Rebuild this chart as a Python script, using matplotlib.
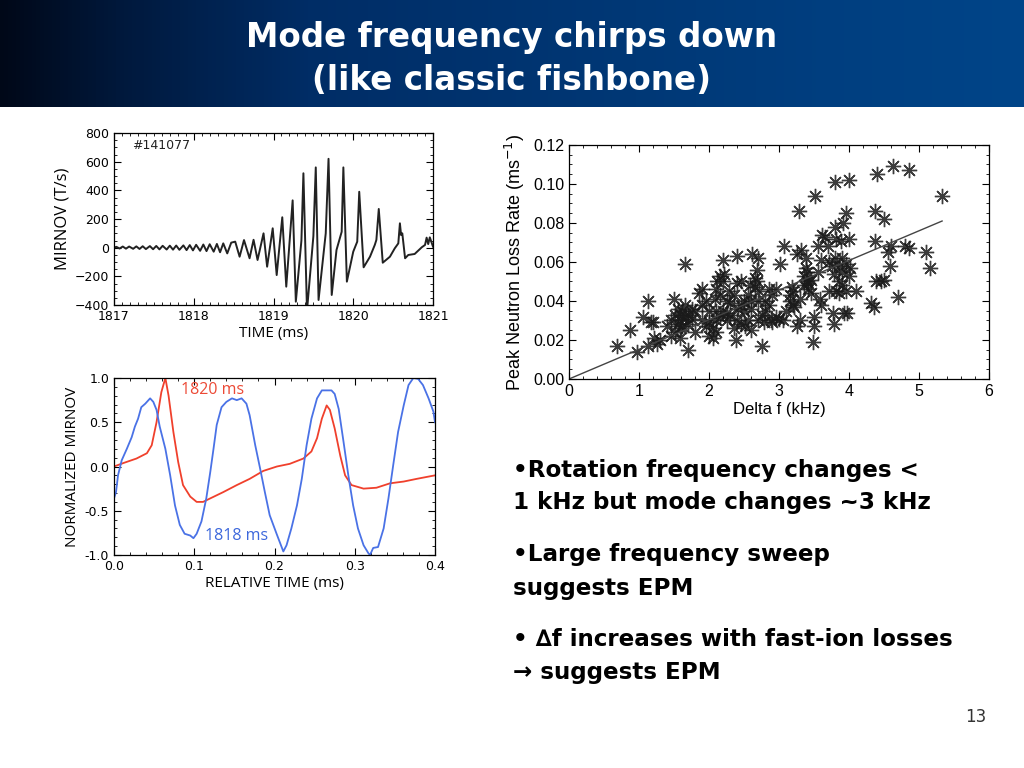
import numpy as np
import matplotlib.pyplot as plt
from matplotlib.ticker import AutoMinorLocator, MultipleLocator
from matplotlib.colors import LinearSegmentedColormap

# --- top left: Mirnov trace, shot #141077 (extrema)
mirnov_t = [1817.00, 1817.03, 1817.07, 1817.11, 1817.15, 1817.19, 1817.24, 1817.28,
            1817.32, 1817.36, 1817.40, 1817.45, 1817.49, 1817.53, 1817.57, 1817.61,
            1817.66, 1817.70, 1817.74, 1817.78, 1817.82, 1817.87, 1817.91, 1817.95,
            1817.99, 1818.03, 1818.08, 1818.12, 1818.16, 1818.20, 1818.25, 1818.29,
            1818.33, 1818.37, 1818.42, 1818.47, 1818.52, 1818.575, 1818.63, 1818.70,
            1818.75, 1818.80, 1818.875, 1818.92, 1818.99, 1819.04, 1819.11, 1819.16,
            1819.24, 1819.28, 1819.35, 1819.375, 1819.42, 1819.50, 1819.53, 1819.565,
            1819.655, 1819.69, 1819.73, 1819.79, 1819.855, 1819.876, 1819.92, 1820.00,
            1820.05, 1820.075, 1820.13, 1820.21, 1820.27, 1820.29, 1820.32, 1820.37,
            1820.46, 1820.52, 1820.565, 1820.585, 1820.60, 1820.615, 1820.65, 1820.69,
            1820.77, 1820.86, 1820.90, 1820.92, 1820.94, 1820.96, 1821.00]
mirnov_v = [0, 6, -6, 8, -7, 8, -8, 9,
            -9, 10, -10, 11, -11, 12, -12, 13,
            -13, 14, -14, 15, -15, 16, -17, 18,
            -19, 20, -22, 22, -24, 24, -28, 26,
            -32, 30, -40, 35, 42, -63, 53, -74,
            55, -86, 100, -133, 135, -191, 212, -272,
            330, -377, 50, 519, -440, 80, 560, -365,
            100, 620, -330, -16, 111, 560, -237, -28,
            42, 390, -137, -63, 19, 54, 270, -105,
            -63, -5, 30, 170, 88, 100, -74, -51,
            -44, 3, 19, 70, 25, 72, 7]

# --- bottom left: normalized Mirnov at 1818 ms and 1820 ms
blue_t = [0.0, 0.0025, 0.005, 0.0096, 0.016, 0.022, 0.026, 0.030, 0.034, 0.039, 0.045,
          0.049, 0.053, 0.057, 0.064, 0.070, 0.076, 0.082, 0.088, 0.095, 0.099, 0.103,
          0.109, 0.115, 0.120, 0.124, 0.128, 0.134, 0.140, 0.147, 0.153, 0.159, 0.165,
          0.169, 0.176, 0.182, 0.188, 0.194, 0.203, 0.211, 0.215, 0.221, 0.228, 0.234,
          0.240, 0.246, 0.253, 0.259, 0.265, 0.271, 0.275, 0.280, 0.286, 0.292, 0.298,
          0.304, 0.311, 0.317, 0.319, 0.323, 0.329, 0.336, 0.342, 0.348, 0.354, 0.361,
          0.367, 0.373, 0.379, 0.385, 0.392, 0.398, 0.400]
blue_v = [-0.36, -0.29, -0.10, 0.07, 0.20, 0.33, 0.45, 0.54, 0.67, 0.71, 0.77,
          0.73, 0.64, 0.45, 0.20, -0.10, -0.44, -0.66, -0.76, -0.78, -0.81, -0.76,
          -0.62, -0.36, -0.06, 0.20, 0.47, 0.67, 0.73, 0.77, 0.75, 0.77, 0.71,
          0.58, 0.24, -0.02, -0.29, -0.55, -0.77, -0.96, -0.89, -0.70, -0.44, -0.14,
          0.24, 0.54, 0.77, 0.86, 0.86, 0.86, 0.82, 0.65, 0.28, -0.10, -0.44,
          -0.70, -0.89, -0.98, -1.0, -0.92, -0.91, -0.70, -0.36, 0.02, 0.39, 0.69,
          0.92, 1.0, 0.99, 0.92, 0.77, 0.62, 0.50]
red_t = [0.0, 0.012, 0.028, 0.041, 0.047, 0.053, 0.059, 0.064, 0.068, 0.074, 0.080,
         0.086, 0.095, 0.103, 0.111, 0.120, 0.136, 0.153, 0.169, 0.186, 0.203, 0.219,
         0.236, 0.246, 0.253, 0.259, 0.265, 0.269, 0.275, 0.282, 0.288, 0.296, 0.311,
         0.327, 0.344, 0.361, 0.377, 0.400]
red_v = [0.0, 0.04, 0.09, 0.15, 0.24, 0.50, 0.84, 1.0, 0.80, 0.39, 0.05,
         -0.21, -0.34, -0.40, -0.40, -0.36, -0.29, -0.21, -0.14, -0.05, 0.0, 0.03,
         0.09, 0.17, 0.32, 0.54, 0.69, 0.64, 0.43, 0.12, -0.10, -0.21, -0.25,
         -0.24, -0.19, -0.17, -0.14, -0.10]

# --- right: peak neutron loss rate vs delta f
dfreq = [0.68, 0.87, 0.97, 1.05, 1.13, 1.13, 1.17, 1.20, 1.22, 1.25, 1.40, 1.45, 1.50, 1.52,
         1.55, 1.58, 1.60, 1.62, 1.65, 1.67, 1.70, 1.70, 1.75, 1.80, 1.85, 1.90, 1.90, 1.95,
         2.00, 2.05, 2.05, 2.10, 2.10, 2.15, 2.15, 2.20, 2.20, 2.25, 2.25, 2.30, 2.35, 2.38,
         2.40, 2.40, 2.45, 2.45, 2.50, 2.55, 2.60, 2.60, 2.62, 2.65, 2.68, 2.70, 2.70, 2.72,
         2.75, 2.80, 2.85, 2.90, 2.95, 3.00, 3.02, 3.07, 3.15, 3.20, 3.22, 3.25, 3.25, 3.28,
         3.30, 3.32, 3.35, 3.38, 3.40, 3.42, 3.45, 3.48, 3.50, 3.50, 3.52, 3.55, 3.55, 3.58,
         3.60, 3.62, 3.65, 3.70, 3.72, 3.75, 3.77, 3.78, 3.80, 3.80, 3.82, 3.85, 3.85, 3.88,
         3.90, 3.92, 3.93, 3.95, 3.95, 3.97, 4.00, 4.00, 4.00, 4.02, 4.10, 4.32, 4.35, 4.37,
         4.37, 4.38, 4.40, 4.45, 4.50, 4.50, 4.55, 4.58, 4.60, 4.63, 4.70, 4.80, 4.85, 4.85,
         5.10, 5.15, 5.33,
         1.55, 1.60, 1.65, 1.70, 1.75, 1.80, 1.90, 1.95, 2.00, 2.00, 2.10, 2.10, 2.15, 2.20,
         2.25, 2.30, 2.35, 2.40, 2.45, 2.50, 2.55, 2.60, 2.65, 2.70, 2.75, 2.80, 2.85, 2.90,
         2.95, 3.10, 3.15, 3.20, 3.30, 3.35, 3.40, 3.45, 3.80, 3.85, 3.90, 3.82, 3.90, 3.95,
         1.30, 1.45, 1.52, 1.58, 1.62, 2.08, 2.12, 2.22, 2.28, 2.42, 2.52, 2.58, 2.68, 2.78,
         2.88, 3.05, 3.18, 3.38, 3.42, 3.60, 3.72, 3.78]
loss = [0.017, 0.025, 0.014, 0.032, 0.040, 0.017, 0.029, 0.029, 0.021, 0.018, 0.027, 0.022,
        0.041, 0.033, 0.036, 0.030, 0.026, 0.035, 0.059, 0.032, 0.015, 0.028, 0.036, 0.024,
        0.044, 0.046, 0.038, 0.027, 0.022, 0.021, 0.026, 0.035, 0.046, 0.053, 0.032, 0.050,
        0.061, 0.040, 0.030, 0.033, 0.026, 0.020, 0.063, 0.049, 0.050, 0.038, 0.035, 0.030,
        0.025, 0.036, 0.064, 0.052, 0.056, 0.062, 0.030, 0.045, 0.017, 0.040, 0.038, 0.029,
        0.046, 0.031, 0.059, 0.068, 0.043, 0.038, 0.037, 0.027, 0.064, 0.086, 0.030, 0.066,
        0.053, 0.057, 0.050, 0.049, 0.044, 0.019, 0.027, 0.032, 0.094, 0.068, 0.055, 0.041,
        0.038, 0.074, 0.073, 0.068, 0.060, 0.058, 0.034, 0.028, 0.101, 0.078, 0.072, 0.044,
        0.050, 0.071, 0.062, 0.080, 0.034, 0.085, 0.045, 0.034, 0.102, 0.072, 0.053, 0.057,
        0.045, 0.039, 0.037, 0.071, 0.086, 0.050, 0.105, 0.050, 0.051, 0.082, 0.065, 0.058,
        0.068, 0.109, 0.042, 0.068, 0.107, 0.067, 0.065, 0.057, 0.094,
        0.028, 0.033, 0.038, 0.033, 0.031, 0.035, 0.030, 0.040, 0.029, 0.035, 0.030, 0.024,
        0.043, 0.035, 0.034, 0.039, 0.043, 0.030, 0.028, 0.040, 0.043, 0.040, 0.047, 0.040,
        0.033, 0.035, 0.046, 0.043, 0.032, 0.035, 0.040, 0.045, 0.041, 0.048, 0.055, 0.051,
        0.062, 0.058, 0.055, 0.045, 0.048, 0.059,
        0.020, 0.030, 0.024, 0.021, 0.027, 0.041, 0.050, 0.054, 0.045, 0.036, 0.027, 0.048,
        0.050, 0.029, 0.030, 0.030, 0.047, 0.062, 0.046, 0.061, 0.045, 0.054]
fit_slope = 0.0152
fit_intercept = 0.0

title_lines = ["Mode frequency chirps down", "(like classic fishbone)"]
bullets = ["\u2022Rotation frequency changes <",
           "1 kHz but mode changes ~3 kHz",
           "\u2022Large frequency sweep",
           "suggests EPM",
           "\u2022 \u2206f increases with fast-ion losses",
           "\u2192 suggests EPM"]
bullet_y = [470, 503, 555, 588, 640, 673]

W, H = 1024, 768
fig = plt.figure(figsize=(10.24, 7.68), dpi=100)

def box(x0, y0, x1, y1):
    return [x0 / W, 1 - y1 / H, (x1 - x0) / W, (y1 - y0) / H]

# title banner with gradient
ax_bg = fig.add_axes(box(0, 0, W, 107))
grad = LinearSegmentedColormap.from_list(
    "banner", [(0.0, "#000818"), (0.12, "#00193d"), (0.3, "#002d66"), (1.0, "#004589")])
ax_bg.imshow(np.linspace(0, 1, 256)[None, :], aspect="auto", cmap=grad, extent=[0, 1, 0, 1])
ax_bg.axis("off")
for txt, yy in zip(title_lines, [38, 80]):
    fig.text(0.5, 1 - yy / H, txt, color="white", fontsize=23.5, fontweight="bold",
             family="DejaVu Sans", ha="center", va="center")

def idl_style(ax, size):
    ax.tick_params(which="both", direction="in", top=True, right=True, labelsize=size)
    ax.tick_params(which="major", length=5, width=0.8)
    ax.tick_params(which="minor", length=2.5, width=0.6)
    for s in ax.spines.values():
        s.set_linewidth(0.9)

# top left
ax1 = fig.add_axes(box(114, 133, 433, 305))
ax1.plot(mirnov_t, mirnov_v, color="#222222", lw=1.4)
ax1.set_xlim(1817, 1821)
ax1.set_ylim(-400, 800)
ax1.xaxis.set_major_locator(MultipleLocator(1))
ax1.xaxis.set_minor_locator(MultipleLocator(0.1))
ax1.yaxis.set_major_locator(MultipleLocator(200))
ax1.yaxis.set_minor_locator(MultipleLocator(50))
idl_style(ax1, 9)
ax1.text(1817.22, 715, "#141077", fontsize=9, va="center", color="#222222")
ax1.set_xlabel("TIME (ms)", fontsize=11, labelpad=2, family="Open Sans")
ax1.set_ylabel("MIRNOV (T/s)", fontsize=12, labelpad=3, family="Open Sans")

# bottom left
ax2 = fig.add_axes(box(114, 378, 435, 555))
ax2.plot(red_t, red_v, color="#f0402c", lw=1.3)
ax2.plot(blue_t, blue_v, color="#4a72e6", lw=1.3)
ax2.set_xlim(0, 0.4)
ax2.set_ylim(-1.0, 1.0)
ax2.xaxis.set_major_locator(MultipleLocator(0.1))
ax2.xaxis.set_minor_locator(MultipleLocator(0.02))
ax2.yaxis.set_major_locator(MultipleLocator(0.5))
ax2.yaxis.set_minor_locator(MultipleLocator(0.1))
ax2.xaxis.set_major_formatter(lambda v, p: f"{v:.1f}")
ax2.yaxis.set_major_formatter(lambda v, p: f"{v:.1f}")
idl_style(ax2, 9)
ax2.text(0.084, 0.86, "1820 ms", color="#ec4a36", fontsize=11.5, va="center", family="Open Sans")
ax2.text(0.114, -0.79, "1818 ms", color="#3d68dc", fontsize=11.5, va="center", family="Open Sans")
ax2.set_xlabel("RELATIVE TIME (ms)", fontsize=11, labelpad=2, family="Open Sans")
ax2.set_ylabel("NORMALIZED MIRNOV", fontsize=11, labelpad=3, family="Open Sans")

# right scatter
ax3 = fig.add_axes(box(569, 145, 989, 379))
ax3.plot(dfreq, loss, linestyle="none", marker=(8, 2, 0), markersize=11,
         markeredgewidth=1.0, color="#1a1a1a", alpha=0.85)
xfit = np.array([0, max(dfreq)])
ax3.plot(xfit, fit_intercept + fit_slope * xfit, color="#444444", lw=1.0)
ax3.set_xlim(0, 6)
ax3.set_ylim(0, 0.12)
ax3.xaxis.set_major_locator(MultipleLocator(1))
ax3.xaxis.set_minor_locator(AutoMinorLocator(5))
ax3.yaxis.set_major_locator(MultipleLocator(0.02))
ax3.yaxis.set_minor_locator(AutoMinorLocator(4))
ax3.yaxis.set_major_formatter(lambda v, p: f"{v:.2f}")
idl_style(ax3, 11.5)
for lab in ax3.get_xticklabels() + ax3.get_yticklabels():
    lab.set_family("Liberation Sans")
ax3.set_xlabel("Delta f (kHz)", fontsize=12, labelpad=2, family="Liberation Sans")
ax3.set_ylabel("Peak Neutron Loss Rate (ms$^{-1}$)", fontsize=13, labelpad=4,
               family="Liberation Sans")

# bullet text
for txt, yy in zip(bullets, bullet_y):
    fig.text(513 / W, 1 - yy / H, txt, fontsize=16.6, fontweight="bold",
             family=["DejaVu Sans"], va="center", ha="left", color="black")

fig.text(986 / W, 1 - 717 / H, "13", fontsize=12, ha="right", va="center", color="#333333")

fig.savefig("out.png", dpi=100)
